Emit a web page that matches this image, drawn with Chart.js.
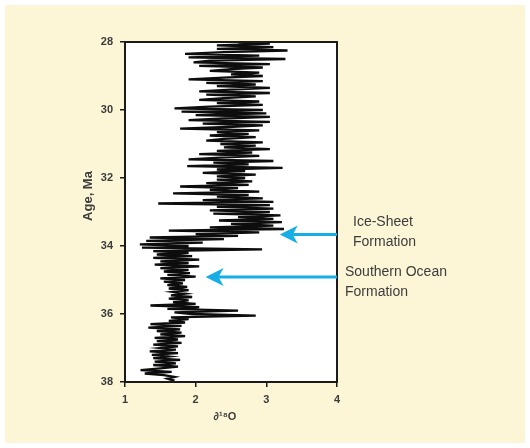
<!DOCTYPE html>
<html>
<head>
<meta charset="utf-8">
<script src="https://cdn.jsdelivr.net/npm/chart.js@4/dist/chart.umd.min.js"></script>
<style>
  html, body { margin: 0; padding: 0; background: #ffffff; }
  canvas { display: block; }
</style>
</head>
<body>
<canvas id="chart" width="530" height="448"></canvas>
<script>
// --- DANE ---
// wiek (Ma), od góry wykresu
const ages = [
  28.00, 28.05, 28.10, 28.15, 28.20, 28.25, 28.30, 28.35, 28.40, 28.45, 28.50, 28.55, 28.60, 28.65, 28.70, 28.75, 28.80, 28.85, 28.90, 28.95, 29.00,
  29.05, 29.10, 29.15, 29.20, 29.25, 29.30, 29.35, 29.40, 29.45, 29.50, 29.55, 29.60, 29.65, 29.70, 29.75, 29.80, 29.85, 29.90, 29.95, 30.00,
  30.05, 30.10, 30.15, 30.20, 30.25, 30.30, 30.35, 30.40, 30.45, 30.50, 30.55, 30.60, 30.65, 30.70, 30.75, 30.80, 30.85, 30.90, 30.95, 31.00,
  31.05, 31.10, 31.15, 31.20, 31.25, 31.30, 31.35, 31.40, 31.45, 31.50, 31.55, 31.60, 31.65, 31.70, 31.75, 31.80, 31.85, 31.90, 31.95, 32.00,
  32.05, 32.10, 32.15, 32.20, 32.25, 32.30, 32.35, 32.40, 32.45, 32.50, 32.55, 32.60, 32.65, 32.70, 32.75, 32.80, 32.85, 32.90, 32.95, 33.00,
  33.05, 33.10, 33.15, 33.20, 33.25, 33.30, 33.35, 33.40, 33.45, 33.50, 33.55, 33.60, 33.65, 33.70, 33.75, 33.80, 33.85, 33.90, 33.95, 34.00,
  34.05, 34.10, 34.15, 34.20, 34.25, 34.30, 34.35, 34.40, 34.45, 34.50, 34.55, 34.60, 34.65, 34.70, 34.75, 34.80, 34.85, 34.90, 34.95, 35.00,
  35.05, 35.10, 35.15, 35.20, 35.25, 35.30, 35.35, 35.40, 35.45, 35.50, 35.55, 35.60, 35.65, 35.70, 35.75, 35.80, 35.85, 35.90, 35.95, 36.00,
  36.05, 36.10, 36.15, 36.20, 36.25, 36.30, 36.35, 36.40, 36.45, 36.50, 36.55, 36.60, 36.65, 36.70, 36.75, 36.80, 36.85, 36.90, 36.95, 37.00,
  37.05, 37.10, 37.15, 37.20, 37.25, 37.30, 37.35, 37.40, 37.45, 37.50, 37.55, 37.60, 37.65, 37.70, 37.75, 37.80, 37.85, 37.90, 37.95, 38.00
];

// delta 18O
const d18O = [
  2.6, 3.05, 2.3, 3.1, 2.3, 3.3, 2.4, 1.85, 2.9, 1.9, 3.27, 2.2, 1.97, 3.05, 2.05, 2.95, 2.5, 2.2, 2.9, 2.5, 2.95,
  2.4, 1.9, 2.95, 2.15, 2.85, 2.3, 3.05, 2.5, 2.05, 3.05, 2.15, 2.85, 2.4, 2.05, 2.9, 2.3, 2.95, 2.2, 1.7, 2.95,
  1.8, 3.0, 2.0, 3.05, 2.4, 1.9, 3.05, 2.1, 2.95, 2.45, 1.78, 2.9, 2.3, 2.75, 2.2, 2.85, 2.4, 2.15, 2.95, 2.35,
  2.85, 2.4, 3.05, 2.3, 2.8, 2.05, 2.9, 2.35, 1.9, 3.1, 2.25, 2.75, 1.88, 3.23, 2.3, 2.7, 2.1, 2.85, 2.3, 2.7,
  2.3, 2.8, 2.15, 2.75, 1.78, 2.6, 2.2, 2.9, 1.68, 2.75, 2.3, 2.95, 2.1, 3.1, 1.47, 3.05, 2.3, 3.1, 2.2, 3.05,
  2.25, 3.2, 2.6, 3.1, 2.33, 3.22, 2.5, 3.1, 2.2, 3.25, 1.62, 2.9, 2.0, 2.6, 1.35, 2.4, 1.3, 2.1, 1.21, 1.9,
  1.24, 2.94, 1.4, 1.9, 1.45, 1.95, 1.4, 2.05, 1.5, 1.9, 1.42, 2.05, 1.5, 1.9, 1.55, 1.92, 1.6, 2.0, 1.5, 1.85,
  1.55, 1.82, 1.6, 1.88, 1.62, 1.9, 1.68, 1.85, 1.65, 1.95, 1.62, 1.9, 1.68, 2.0, 1.36, 2.05, 1.6, 2.6, 1.7, 1.95,
  2.85, 1.65, 1.9, 1.62, 1.85, 1.36, 1.8, 1.33, 1.78, 1.45, 1.8, 1.5, 1.85, 1.42, 1.75, 1.45, 1.8, 1.4, 1.75, 1.5,
  1.72, 1.35, 1.75, 1.38, 1.62, 1.4, 1.78, 1.42, 1.72, 1.4, 1.75, 1.5, 1.22, 1.66, 1.28, 1.55, 1.7, 1.6, 1.68, 1.65
];

// podziałki osi
const xTicks = [1, 2, 3, 4];
const yTicks = [28, 30, 32, 34, 36, 38];

// strzałki z opisami
const arrowLabels = [['Ice-Sheet', 'Formation'], ['Southern Ocean', 'Formation']];
const arrowAges = [33.66, 34.91];
const arrowTips = [3.19, 2.14];

const BG = '#fdf6d6';
const TEXT = '#3c3c3c';
const BLUE = '#17aee6';

// tło + ramka + tytuły osi + strzałki
const decor = {
  id: 'decor',
  beforeDraw(chart) {
    const c = chart.ctx;
    c.save();
    c.fillStyle = '#ffffff';
    c.fillRect(0, 0, chart.width, chart.height);
    c.fillStyle = BG;
    c.fillRect(5, 5, chart.width - 10, chart.height - 10);
    const a = chart.chartArea;
    c.fillStyle = '#ffffff';
    c.fillRect(a.left, a.top, a.right - a.left, a.bottom - a.top);
    c.restore();
  },
  afterDraw(chart) {
    const c = chart.ctx;
    const a = chart.chartArea;
    const xs = chart.scales.x, ys = chart.scales.y;
    c.save();
    c.strokeStyle = '#1a1a1a';
    c.lineWidth = 2;
    c.strokeRect(a.left, a.top, a.right - a.left, a.bottom - a.top);

    // tytuły osi
    c.fillStyle = TEXT;
    c.font = 'bold 11px "Liberation Sans", Arial, sans-serif';
    c.textAlign = 'center';
    c.textBaseline = 'middle';
    c.fillText('\u2202\u00B9\u2078O', 225, 417);
    c.save();
    c.translate(88, 196);
    c.rotate(-Math.PI / 2);
    c.font = 'bold 13px "Liberation Sans", Arial, sans-serif';
    c.fillText('Age, Ma', 0, 0);
    c.restore();

    // strzałki
    arrowAges.forEach((age, i) => {
      const y = ys.getPixelForValue(age);
      const tip = xs.getPixelForValue(arrowTips[i]);
      const tail = xs.getPixelForValue(4);
      c.strokeStyle = BLUE;
      c.fillStyle = BLUE;
      c.lineWidth = 3;
      c.beginPath();
      c.moveTo(tail, y);
      c.lineTo(tip + 10, y);
      c.stroke();
      c.beginPath();
      c.moveTo(tip, y);
      c.lineTo(tip + 18, y - 9);
      c.lineTo(tip + 13, y);
      c.lineTo(tip + 18, y + 9);
      c.closePath();
      c.fill();

      c.fillStyle = TEXT;
      c.font = '14px "Liberation Sans", Arial, sans-serif';
      c.textAlign = 'left';
      c.textBaseline = 'middle';
      const lx = i === 0 ? 353 : 345;
      const ly = i === 0 ? 222 : 272;
      arrowLabels[i].forEach((t, j) => c.fillText(t, lx, ly + j * 20));
    });
    c.restore();
  }
};

const tickFont = { family: '"Liberation Sans", Arial, sans-serif', size: 11, weight: 'bold' };

new Chart(document.getElementById('chart').getContext('2d'), {
  type: 'scatter',
  data: {
    datasets: [{
      data: ages.map((a, i) => ({ x: d18O[i], y: a })),
      showLine: true,
      borderColor: '#0d0d0d',
      borderWidth: 2.3,
      pointRadius: 0,
      tension: 0
    }]
  },
  options: {
    responsive: false,
    animation: false,
    devicePixelRatio: 1,
    layout: { padding: { left: 0, right: 193, top: 42, bottom: 0 } },
    plugins: { legend: { display: false }, tooltip: { enabled: false } },
    scales: {
      x: {
        type: 'linear', min: 1, max: 4,
        afterFit: s => { s.height = 66; },
        afterBuildTicks: s => { s.ticks = xTicks.map(v => ({ value: v })); },
        grid: { drawOnChartArea: false, drawTicks: true, tickLength: 5, color: '#1a1a1a', lineWidth: 1.5 },
        border: { display: true, color: '#1a1a1a', width: 2 },
        ticks: { color: TEXT, font: tickFont, padding: 6, maxRotation: 0 }
      },
      y: {
        type: 'linear', min: 28, max: 38, reverse: true,
        afterFit: s => { s.width = 125; },
        afterBuildTicks: s => { s.ticks = yTicks.map(v => ({ value: v })); },
        grid: { drawOnChartArea: false, drawTicks: true, tickLength: 5, color: '#1a1a1a', lineWidth: 1.5 },
        border: { display: true, color: '#1a1a1a', width: 2 },
        ticks: { color: TEXT, font: tickFont, padding: 7 }
      }
    }
  },
  plugins: [decor]
});
</script>
</body>
</html>
